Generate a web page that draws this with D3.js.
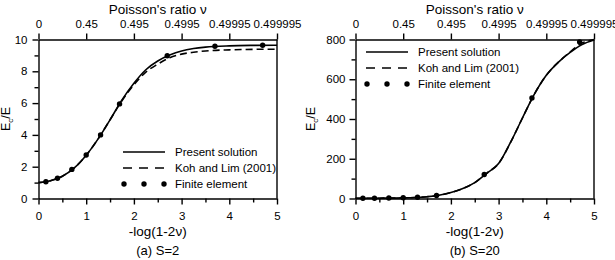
<!DOCTYPE html>
<html>
<head>
<meta charset="utf-8">
<script src="https://cdn.jsdelivr.net/npm/d3@7"></script>
<style>
  body { margin: 0; background: #fff; }
  svg { display: block; font-family: "Liberation Sans", Arial, sans-serif; }
  .axis path, .axis line { stroke: #000; }
  .axis text { font-size: 11.5px; fill: #000; }
</style>
</head>
<body>
<script>
// top axis: Poisson's ratio at -log(1-2v) = 0..5
const topTicks = [0, 1, 2, 3, 4, 5];
const topLabels = ["0", "0.45", "0.495", "0.4995", "0.49995", "0.499995"];

// finite element sample points (same x in both panels)
const feX = [0.155, 0.398, 0.699, 1.0, 1.301, 1.699, 2.699, 3.699, 4.699];

// (a) S=2
const aX = [0, 0.25, 0.5, 0.75, 1.0, 1.25, 1.5, 1.75, 2.0, 2.25, 2.5, 2.75, 3.0, 3.25, 3.5, 4.0, 4.5, 5.0];
const aPresent = [1.0, 1.12, 1.4, 1.92, 2.72, 3.75, 4.95, 6.2, 7.25, 8.1, 8.65, 9.02, 9.28, 9.43, 9.52, 9.6, 9.63, 9.64];
const aKoh = [1.0, 1.12, 1.4, 1.92, 2.72, 3.75, 4.95, 6.15, 7.15, 7.95, 8.45, 8.85, 9.08, 9.2, 9.28, 9.35, 9.38, 9.39];
const aFE = [1.05, 1.27, 1.83, 2.74, 4.0, 5.95, 8.98, 9.58, 9.64];

// (b) S=20
const bX = [0, 0.5, 1.0, 1.25, 1.5, 1.75, 2.0, 2.25, 2.5, 2.75, 3.0, 3.25, 3.5, 3.75, 4.0, 4.25, 4.5, 4.75, 5.0];
const bPresent = [1, 1.5, 3, 5, 9, 16, 30, 50, 80, 127, 176, 282, 405, 525, 620, 685, 735, 775, 798];
const bKoh = [1, 1.5, 3, 5, 9, 16, 30, 50, 80, 127, 176, 282, 405, 525, 620, 685, 738, 782, 800];
const bFE = [1.1, 1.4, 2.2, 3.5, 6.5, 15, 121, 506, 788];

const W = 615, H = 260;
const svg = d3.select("body").append("svg").attr("width", W).attr("height", H);

function panel(opt) {
  const g = svg.append("g");
  const x = d3.scaleLinear().domain([0, 5]).range([opt.left, opt.left + 238.5]);
  const y = d3.scaleLinear().domain([0, opt.ymax]).range([198.5, 39.5]);
  const x0 = x.range()[0], x1 = x.range()[1];
  const y0 = y.range()[0], y1 = y.range()[1];

  // minor ticks
  g.append("g").attr("class", "axis")
    .attr("transform", "translate(0," + y0 + ")")
    .call(d3.axisBottom(x).tickValues(d3.range(0.5, 5, 1)).tickSize(4).tickFormat(""))
    .call(s => s.select(".domain").remove());
  g.append("g").attr("class", "axis")
    .attr("transform", "translate(" + x0 + ",0)")
    .call(d3.axisLeft(y).tickValues(d3.range(opt.ystep / 2, opt.ymax, opt.ystep)).tickSize(4).tickFormat(""))
    .call(s => s.select(".domain").remove());

  // major axes
  g.append("g").attr("class", "axis")
    .attr("transform", "translate(0," + y0 + ")")
    .call(d3.axisBottom(x).ticks(5).tickSize(6).tickSizeOuter(0).tickPadding(7));
  g.append("g").attr("class", "axis")
    .attr("transform", "translate(" + x0 + ",0)")
    .call(d3.axisLeft(y).tickValues(d3.range(0, opt.ymax + 1, opt.ystep)).tickSize(6).tickSizeOuter(0).tickPadding(opt.yPad));
  g.append("g").attr("class", "axis")
    .attr("transform", "translate(0," + y1 + ")")
    .call(d3.axisTop(x).tickValues(topTicks).tickSize(6).tickSizeOuter(0).tickPadding(6)
      .tickFormat((d, i) => topLabels[i]));
  g.selectAll(".axis path, .axis line").attr("stroke-width", 1.4);
  g.append("line").attr("x1", x1).attr("x2", x1).attr("y1", y1).attr("y2", y0)
    .attr("stroke", "#000").attr("stroke-width", 1.4);

  // titles
  g.append("text").attr("x", (x0 + x1) / 2).attr("y", 14).attr("text-anchor", "middle")
    .attr("font-size", 13.5).text("Poisson's ratio ν");
  g.append("text").attr("x", (x0 + x1) / 2).attr("y", 235.5).attr("text-anchor", "middle")
    .attr("font-size", 13.5).text("-log(1-2ν)");
  g.append("text").attr("x", (x0 + x1) / 2).attr("y", 254.5).attr("text-anchor", "middle")
    .attr("font-size", 13).text(opt.caption);
  const yt = g.append("text")
    .attr("transform", "translate(" + (opt.left - opt.ytitleOff) + "," + ((y0 + y1) / 2) + ") rotate(-90)")
    .attr("text-anchor", "middle").attr("font-size", 12.5);
  yt.append("tspan").text("E");
  yt.append("tspan").attr("font-size", 8).attr("dy", 3).text("c");
  yt.append("tspan").attr("dy", -3).text("/E");

  // curves
  const line = d3.line().x(d => x(d[0])).y(d => y(d[1])).curve(d3.curveMonotoneX);
  g.append("path").datum(d3.zip(opt.xs, opt.koh)).attr("d", line)
    .attr("fill", "none").attr("stroke", "#000").attr("stroke-width", 1.6)
    .attr("stroke-dasharray", "7,4");
  g.append("path").datum(d3.zip(opt.xs, opt.present)).attr("d", line)
    .attr("fill", "none").attr("stroke", "#000").attr("stroke-width", 1.6);
  g.selectAll("circle.fe").data(d3.zip(feX, opt.fe)).join("circle")
    .attr("class", "fe").attr("cx", d => x(d[0])).attr("cy", d => y(d[1])).attr("r", 2.7);

  // legend
  const lg = g.append("g").attr("transform", "translate(" + opt.legX + "," + opt.legY + ")");
  const items = ["Present solution", "Koh and Lim (2001)", "Finite element"];
  items.forEach((t, i) => {
    const yy = i * 16;
    if (i < 2) {
      lg.append("line").attr("x1", 0).attr("x2", 42).attr("y1", yy).attr("y2", yy)
        .attr("stroke", "#000").attr("stroke-width", 1.5)
        .attr("stroke-dasharray", i === 1 ? "9,7" : null);
    } else {
      [1, 21, 41].forEach(cx => lg.append("circle").attr("cx", cx).attr("cy", yy).attr("r", 2.7));
    }
    lg.append("text").attr("x", 52).attr("y", yy + 4).attr("font-size", 11.5).text(t);
  });
}

panel({ left: 38.5, ymax: 10, ystep: 2, caption: "(a) S=2", ytitleOff: 29, yPad: 5,
  xs: aX, present: aPresent, koh: aKoh, fe: aFE, legX: 123, legY: 152 });
panel({ left: 355.5, ymax: 800, ystep: 200, caption: "(b) S=20", ytitleOff: 41, yPad: 4,
  xs: bX, present: bPresent, koh: bKoh, fe: bFE, legX: 366, legY: 52 });
</script>
</body>
</html>
